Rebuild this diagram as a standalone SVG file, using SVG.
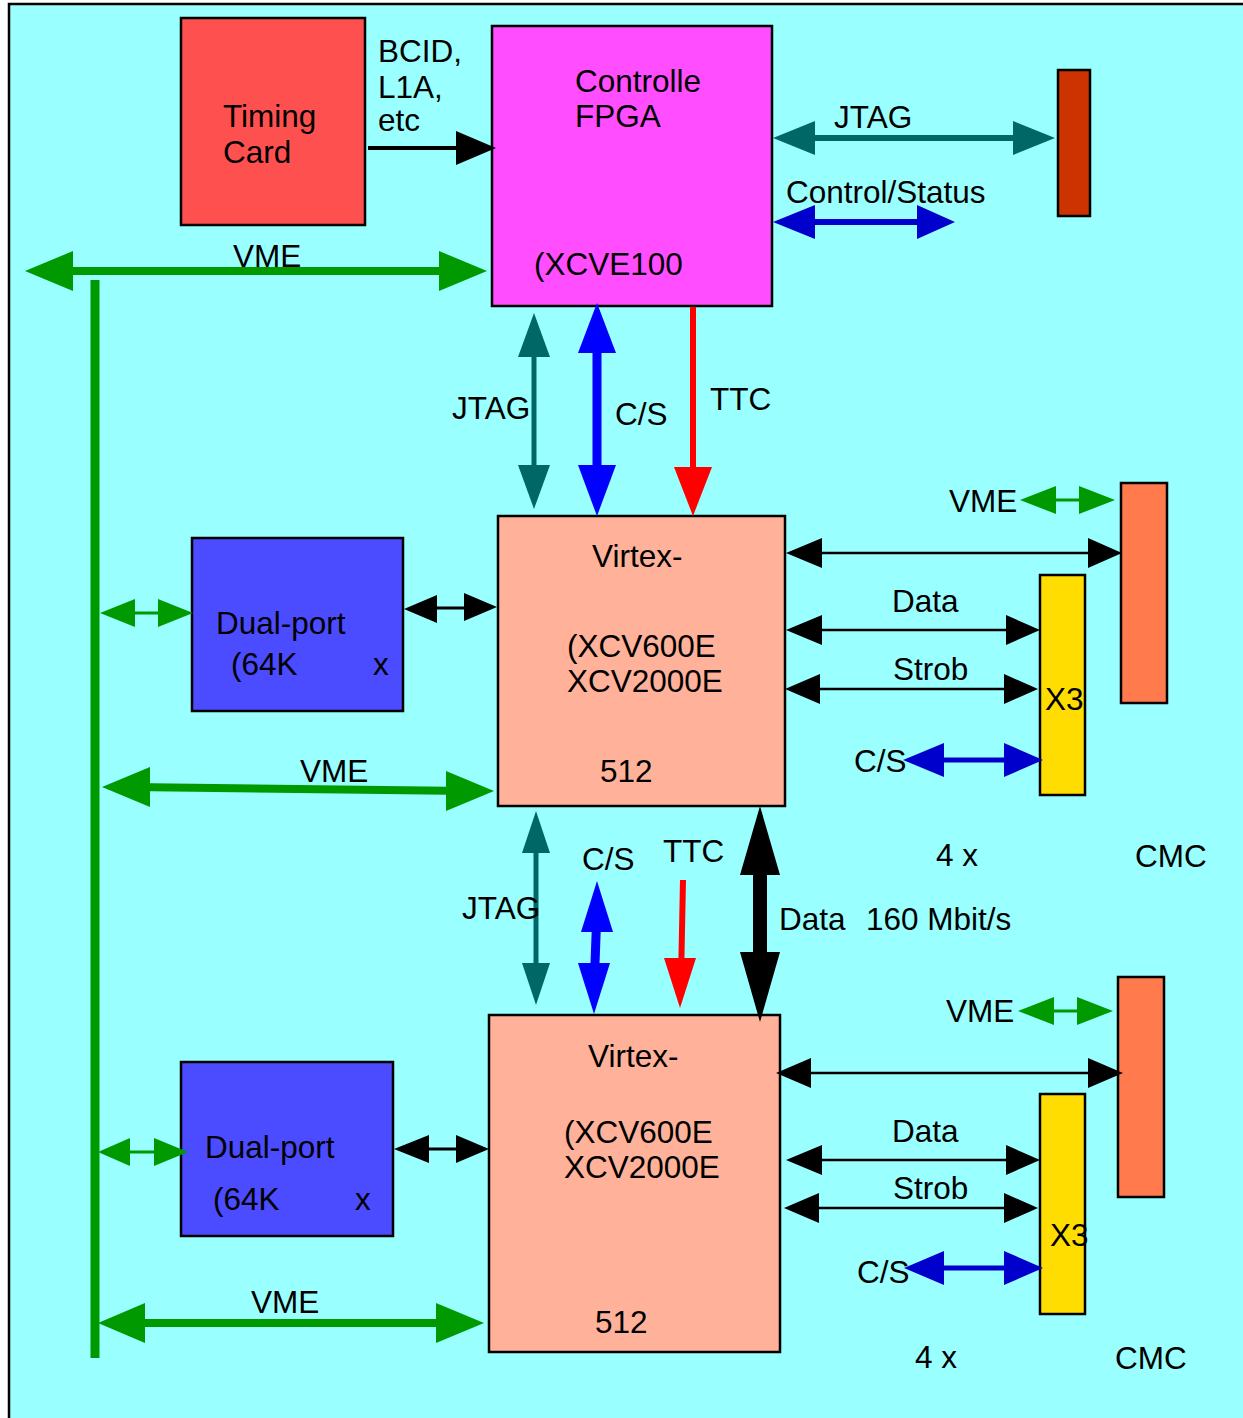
<svg xmlns="http://www.w3.org/2000/svg" width="1243" height="1418" viewBox="0 0 1243 1418">
<style>
text{font-family:"Liberation Sans",Arial,sans-serif;font-size:31.5px;fill:#000}
.box{stroke:#000;stroke-width:2.5}
.blk{stroke:#000;fill:none}
.grn{stroke:#009900;fill:none}
.tel{stroke:#006666;fill:none}
.blu{stroke:#0000CC;fill:none}
.blu2{stroke:#0000FF;fill:none}
.red{stroke:#FF0000;fill:none}
.hb{fill:#000}.hg{fill:#009900}.ht{fill:#006666}.hu{fill:#0000CC}.hu2{fill:#0000FF}.hr{fill:#FF0000}
</style>
<rect x="9" y="4" width="1260" height="1440" fill="#99FFFF" stroke="#000" stroke-width="2.5"/>

<g id="timing-card"><rect class="box" x="181" y="18" width="184" height="207" fill="#FF5050"/><text x="223" y="127">Timing</text><text x="223" y="163">Card</text></g>
<g id="controller-fpga"><rect class="box" x="492" y="26" width="280" height="280" fill="#FF4DFF"/><text x="575" y="92">Controlle</text><text x="575" y="127">FPGA</text><text x="534" y="275">(XCVE100</text></g>
<g id="jtag-connector"><rect class="box" x="1058" y="70" width="32" height="146" fill="#CC3300"/></g>
<g id="virtex-1"><rect class="box" x="498" y="516" width="287" height="290" fill="#FFB299"/><text x="592" y="567">Virtex-</text><text x="567" y="657">(XCV600E</text><text x="567" y="692">XCV2000E</text><text x="600" y="782">512</text></g>
<g id="dualport-1"><rect class="box" x="192" y="538" width="211" height="173" fill="#4B4BFF"/><text x="216" y="634">Dual-port</text><text x="231" y="675">(64K</text><text x="373" y="675">x</text></g>
<g id="cmc-1"><rect class="box" x="1121" y="483" width="46" height="220" fill="#FF7A4D"/></g>
<g id="x3-1"><rect class="box" x="1040" y="575" width="45" height="220" fill="#FFDD00"/><text x="1045" y="710">X3</text></g>
<g id="virtex-2"><rect class="box" x="489" y="1015" width="291" height="337" fill="#FFB299"/><text x="588" y="1067">Virtex-</text><text x="564" y="1143">(XCV600E</text><text x="564" y="1178">XCV2000E</text><text x="595" y="1333">512</text></g>
<g id="dualport-2"><rect class="box" x="181" y="1062" width="212" height="174" fill="#4B4BFF"/><text x="205" y="1158">Dual-port</text><text x="213" y="1210">(64K</text><text x="355" y="1210">x</text></g>
<g id="cmc-2"><rect class="box" x="1118" y="977" width="46" height="220" fill="#FF7A4D"/></g>
<g id="x3-2"><rect class="box" x="1040" y="1094" width="45" height="220" fill="#FFDD00"/><text x="1050" y="1246">X3</text></g>

<g id="connectors">
<line class="grn" x1="95" y1="280" x2="95" y2="1358" stroke-width="9"/>
<line class="blk" x1="368" y1="148" x2="460" y2="148" stroke-width="4"/>
<polygon class="hb" points="456,131 496,148 456,165"/>
<line class="grn" x1="60" y1="271" x2="450" y2="271" stroke-width="8"/>
<polygon class="hg" points="25,271 73,251 73,291"/><polygon class="hg" points="487,271 439,251 439,291"/>
<line class="tel" x1="800" y1="138" x2="1030" y2="138" stroke-width="6"/>
<polygon class="ht" points="773,138 815,121 815,155"/><polygon class="ht" points="1055,138 1013,121 1013,155"/>
<line class="blu" x1="800" y1="222" x2="930" y2="222" stroke-width="6"/>
<polygon class="hu" points="773,222 815,205 815,239"/><polygon class="hu" points="955,222 917,205 917,239"/>
<line class="tel" x1="534" y1="340" x2="534" y2="480" stroke-width="5"/>
<polygon class="ht" points="534,313 518,357 550,357"/><polygon class="ht" points="534,509 518,465 550,465"/>
<line class="blu2" x1="597" y1="330" x2="597" y2="490" stroke-width="9"/>
<polygon class="hu2" points="597,303 578,353 616,353"/><polygon class="hu2" points="597,516 578,465 616,465"/>
<line class="red" x1="693" y1="307" x2="693" y2="480" stroke-width="6"/>
<polygon class="hr" points="693,516 674,467 712,467"/>
<line class="grn" x1="1040" y1="500" x2="1095" y2="500" stroke-width="3"/>
<polygon class="hg" points="1020,500 1056,486 1056,514"/><polygon class="hg" points="1115,500 1079,486 1079,514"/>
<line class="blk" x1="810" y1="553" x2="1100" y2="553" stroke-width="2.5"/>
<polygon class="hb" points="786,553 822,538 822,568"/><polygon class="hb" points="1122,553 1088,538 1088,568"/>
<line class="blk" x1="810" y1="630" x2="1020" y2="630" stroke-width="2.5"/>
<polygon class="hb" points="786,630 822,615 822,645"/><polygon class="hb" points="1040,630 1006,615 1006,645"/>
<line class="blk" x1="810" y1="689" x2="1020" y2="689" stroke-width="2.5"/>
<polygon class="hb" points="785,689 820,674 820,704"/><polygon class="hb" points="1038,689 1004,674 1004,704"/>
<line class="blu" x1="930" y1="760" x2="1020" y2="760" stroke-width="5"/>
<polygon class="hu" points="903,760 944,743 944,777"/><polygon class="hu" points="1043,760 1004,743 1004,777"/>
<line class="blk" x1="420" y1="608" x2="480" y2="608" stroke-width="3"/>
<polygon class="hb" points="404,609 437,595 437,623"/><polygon class="hb" points="497,607 464,593 464,621"/>
<line class="grn" x1="120" y1="613" x2="175" y2="613" stroke-width="3"/>
<polygon class="hg" points="100,613 135,599 135,627"/><polygon class="hg" points="193,613 158,599 158,627"/>
<line class="grn" x1="130" y1="787" x2="470" y2="791" stroke-width="8"/>
<polygon class="hg" points="102,787 150,767 150,807"/><polygon class="hg" points="494,791 446,771 446,811"/>
<line class="tel" x1="536" y1="840" x2="536" y2="980" stroke-width="5"/>
<polygon class="ht" points="536,811 522,853 550,853"/><polygon class="ht" points="536,1005 522,963 550,963"/>
<line class="blu2" x1="597" y1="910" x2="594" y2="990" stroke-width="9"/>
<polygon class="hu2" points="597,881 581,932 613,932"/><polygon class="hu2" points="594,1014 578,963 610,963"/>
<line class="red" x1="683" y1="880" x2="681" y2="980" stroke-width="6"/>
<polygon class="hr" points="680,1008 664,958 696,958"/>
<line class="blk" x1="760" y1="850" x2="760" y2="980" stroke-width="14"/>
<polygon class="hb" points="760,806 740,875 780,875"/><polygon class="hb" points="760,1022 740,952 780,952"/>
<line class="grn" x1="1040" y1="1011" x2="1095" y2="1011" stroke-width="3"/>
<polygon class="hg" points="1018,1011 1054,997 1054,1025"/><polygon class="hg" points="1113,1011 1077,997 1077,1025"/>
<line class="blk" x1="800" y1="1073" x2="1100" y2="1073" stroke-width="2.5"/>
<polygon class="hb" points="776,1073 811,1058 811,1088"/><polygon class="hb" points="1123,1073 1088,1058 1088,1088"/>
<line class="blk" x1="810" y1="1160" x2="1020" y2="1160" stroke-width="2.5"/>
<polygon class="hb" points="786,1160 822,1145 822,1175"/><polygon class="hb" points="1040,1160 1006,1145 1006,1175"/>
<line class="blk" x1="810" y1="1208" x2="1020" y2="1208" stroke-width="2.5"/>
<polygon class="hb" points="784,1208 819,1193 819,1223"/><polygon class="hb" points="1038,1208 1004,1193 1004,1223"/>
<line class="blu" x1="930" y1="1268" x2="1020" y2="1268" stroke-width="5"/>
<polygon class="hu" points="904,1268 944,1251 944,1285"/><polygon class="hu" points="1043,1268 1004,1251 1004,1285"/>
<line class="blk" x1="410" y1="1149" x2="470" y2="1149" stroke-width="3"/>
<polygon class="hb" points="394,1149 429,1135 429,1163"/><polygon class="hb" points="489,1149 456,1135 456,1163"/>
<line class="grn" x1="118" y1="1152" x2="170" y2="1152" stroke-width="3"/>
<polygon class="hg" points="98,1152 130,1138 130,1166"/><polygon class="hg" points="188,1152 154,1138 154,1166"/>
<line class="grn" x1="130" y1="1323" x2="450" y2="1323" stroke-width="8"/>
<polygon class="hg" points="98,1323 145,1303 145,1343"/><polygon class="hg" points="484,1323 436,1303 436,1343"/>
</g>

<g id="labels">
<text x="378" y="62">BCID,</text><text x="378" y="98">L1A,</text><text x="378" y="131">etc</text>
<text x="233" y="267">VME</text>
<text x="834" y="128">JTAG</text>
<text x="786" y="203">Control/Status</text>
<text x="452" y="419">JTAG</text>
<text x="615" y="425">C/S</text>
<text x="710" y="410">TTC</text>
<text x="949" y="512">VME</text>
<text x="892" y="612">Data</text>
<text x="893" y="680">Strob</text>
<text x="854" y="772">C/S</text>
<text x="936" y="866">4 x</text>
<text x="1135" y="867">CMC</text>
<text x="300" y="782">VME</text>
<text x="582" y="870">C/S</text>
<text x="663" y="862">TTC</text>
<text x="462" y="919">JTAG</text>
<text x="779" y="930">Data</text>
<text x="866" y="930">160 Mbit/s</text>
<text x="946" y="1022">VME</text>
<text x="892" y="1142">Data</text>
<text x="893" y="1199">Strob</text>
<text x="857" y="1283">C/S</text>
<text x="915" y="1368">4 x</text>
<text x="1115" y="1369">CMC</text>
<text x="251" y="1313">VME</text>
</g>
</svg>
